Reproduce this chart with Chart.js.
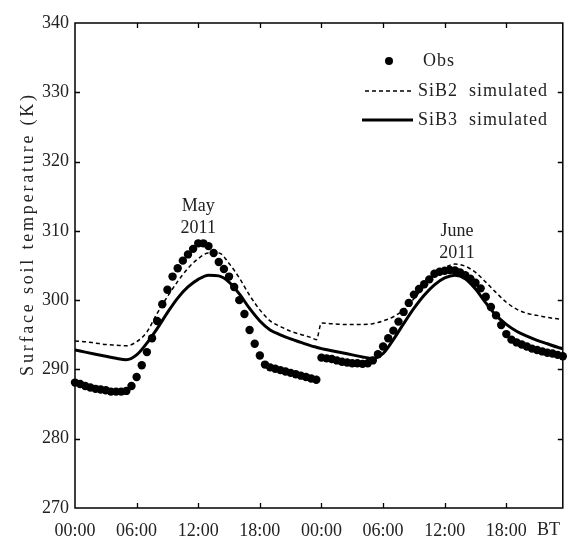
<!DOCTYPE html>
<html>
<head>
<meta charset="utf-8">
<script src="https://cdn.jsdelivr.net/npm/chart.js@4.4.1/dist/chart.umd.min.js"></script>
<style>
  body { margin: 0; background: #fff; }
</style>
</head>
<body>
<canvas id="chart" width="567" height="538"></canvas>
<script>
// observed surface soil temperature (K), every half hour, 00:00 day 1 .. 23:30 day 2
const obsTemp = [
  288.1, 287.9, 287.6, 287.4, 287.2, 287.1, 287.0, 286.8, 286.8, 286.8,
  286.9, 287.6, 288.9, 290.6, 292.5, 294.5, 297.0, 299.4, 301.5, 303.4,
  304.6, 305.7, 306.6, 307.4, 308.2, 308.2, 307.8, 306.8, 305.5, 304.5,
  303.4, 301.9, 300.0, 298.0, 295.7, 293.7, 292.0, 290.7, 290.3, 290.1,
  289.9, 289.7, 289.5, 289.3, 289.1, 288.9, 288.7, 288.5,
  291.7, 291.6, 291.5, 291.3, 291.1, 291.0, 290.9, 290.9, 290.8, 290.9,
  291.3, 292.2, 293.3, 294.5, 295.6, 296.9, 298.3, 299.6, 300.8, 301.6,
  302.3, 303.0, 303.8, 304.1, 304.25, 304.35, 304.3, 304.0, 303.6, 303.1,
  302.5, 301.7, 300.5, 299.0, 297.8, 296.4, 295.1, 294.3, 293.9, 293.6,
  293.3, 293.0, 292.8, 292.6, 292.4, 292.3, 292.1, 291.9
];
const obsHours = obsTemp.map((_, i) => i * 0.5);

// model output hours
const simHours = [
  0, 1, 2, 3, 4, 5, 6, 7, 8, 9, 10, 11, 12, 13, 14, 15, 16, 17, 18, 19, 20, 21, 22, 23, 23.5,
  24, 25, 26, 27, 28, 29, 30, 31, 32, 33, 34, 35, 36, 37, 38, 39, 40, 41, 42, 43, 44, 45, 46, 47, 47.5
];
const sib2Temp = [
  294.1, 294.0, 293.8, 293.6, 293.5, 293.4, 294.0, 295.4, 298.1, 300.5, 302.7, 304.6, 306.0,
  306.8, 306.8, 305.3, 303.2, 300.7, 298.6, 297.0, 296.2, 295.5, 295.05, 294.6, 294.3,
  296.7, 296.6, 296.5, 296.5, 296.5, 296.6, 297.0, 297.6, 298.6, 300.2, 302.0, 303.6, 304.7,
  305.2, 304.9, 304.0, 302.6, 301.1, 299.7, 298.7, 298.1, 297.8, 297.5, 297.3, 297.2
];
const sib3Temp = [
  292.8, 292.5, 292.2, 291.9, 291.6, 291.4, 292.1, 293.8, 295.9, 298.2, 300.3, 301.9, 303.0,
  303.6, 303.5, 302.6, 300.9, 298.8, 297.0, 295.7, 295.0, 294.4, 293.9, 293.4, 293.2,
  293.0, 292.7, 292.4, 292.1, 291.8, 291.6, 292.3, 294.3, 296.6, 298.8, 300.7, 302.2, 303.2,
  303.6, 303.1, 301.6, 299.6, 297.8, 296.5, 295.5, 294.8, 294.2, 293.7, 293.2, 293.0
];

const xTicks = [0, 6, 12, 18, 24, 30, 36, 42];
const yTicks = [270, 280, 290, 300, 310, 320, 330, 340];
const seriesNames = ["Obs", "SiB2 simulated", "SiB3 simulated"];
const yTitle = "Surface soil temperature (K)";
const notes = [
  { hour: 12, temp: 313.6, lines: ["May", "2011"] },
  { hour: 37.2, temp: 310.0, lines: ["June", "2011"] }
];

const FONT = '"Liberation Serif", "DejaVu Serif", serif';
const INK = "#222";

const toXY = (xs, ys) => xs.map((x, i) => ({ x: x, y: ys[i] }));

const framePlugin = {
  id: "frame",
  afterDraw(chart) {
    const { ctx, chartArea: a, scales } = chart;
    const x = scales.x, y = scales.y;
    ctx.save();
    ctx.strokeStyle = "#000";
    ctx.lineWidth = 1.5;
    ctx.strokeRect(a.left, a.top, a.right - a.left, a.bottom - a.top);
    ctx.lineWidth = 1.3;
    ctx.beginPath();
    xTicks.slice(1).forEach((v) => {
      const px = Math.round(x.getPixelForValue(v)) + 0.5;
      ctx.moveTo(px, a.bottom); ctx.lineTo(px, a.bottom - 5);
      ctx.moveTo(px, a.top); ctx.lineTo(px, a.top + 5);
    });
    yTicks.slice(1, -1).forEach((v) => {
      const py = Math.round(y.getPixelForValue(v)) + 0.5;
      ctx.moveTo(a.left, py); ctx.lineTo(a.left + 5, py);
      ctx.moveTo(a.right, py); ctx.lineTo(a.right - 5, py);
    });
    ctx.stroke();

    ctx.fillStyle = INK;
    ctx.font = "18px " + FONT;
    ctx.textBaseline = "middle";

    // "BT" at the end of the time axis
    ctx.textAlign = "left";
    ctx.fillText("BT", 537, 530);

    // y title
    ctx.save();
    ctx.letterSpacing = "2.8px";
    ctx.translate(28, 234);
    ctx.rotate(-Math.PI / 2);
    ctx.textAlign = "center";
    ctx.fillText(yTitle, 0, 0);
    ctx.restore();

    // month notes
    ctx.textAlign = "center";
    notes.forEach((n) => {
      const px = x.getPixelForValue(n.hour);
      const py = y.getPixelForValue(n.temp);
      n.lines.forEach((t, i) => ctx.fillText(t, px, py + i * 22));
    });

    // legend
    ctx.fillStyle = "#000";
    ctx.beginPath();
    ctx.arc(389, 61, 4, 0, Math.PI * 2);
    ctx.fill();
    ctx.strokeStyle = "#000";
    ctx.lineWidth = 1.5;
    ctx.setLineDash([4, 3]);
    ctx.beginPath(); ctx.moveTo(365, 91); ctx.lineTo(413, 91); ctx.stroke();
    ctx.setLineDash([]);
    ctx.lineWidth = 3;
    ctx.beginPath(); ctx.moveTo(362, 120); ctx.lineTo(413, 120); ctx.stroke();
    ctx.fillStyle = INK;
    ctx.textAlign = "left";
    ctx.letterSpacing = "1px";
    ctx.fillText(seriesNames[0], 423, 61);
    ctx.fillText(seriesNames[1].replace(" ", "  "), 418, 91);
    ctx.fillText(seriesNames[2].replace(" ", "  "), 418, 120);
    ctx.restore();
  }
};

new Chart(document.getElementById("chart"), {
  type: "scatter",
  data: {
    datasets: [
      {
        label: seriesNames[0],
        data: toXY(obsHours, obsTemp),
        pointRadius: 4.2,
        pointBackgroundColor: "#000",
        pointBorderWidth: 0,
        showLine: false,
        clip: false,
        order: 0
      },
      {
        label: seriesNames[1],
        data: toXY(simHours, sib2Temp),
        showLine: true,
        borderColor: "#000",
        borderWidth: 1.5,
        borderDash: [4, 3],
        pointRadius: 0,
        cubicInterpolationMode: "monotone",
        order: 1
      },
      {
        label: seriesNames[2],
        data: toXY(simHours, sib3Temp),
        showLine: true,
        borderColor: "#000",
        borderWidth: 3,
        pointRadius: 0,
        cubicInterpolationMode: "monotone",
        order: 2
      }
    ]
  },
  options: {
    responsive: false,
    animation: false,
    layout: { padding: { top: 23, right: 1, left: 0, bottom: 0 } },
    plugins: { legend: { display: false }, tooltip: { enabled: false } },
    scales: {
      x: {
        type: "linear",
        min: 0,
        max: 47.5,
        grid: { display: false, drawTicks: false },
        border: { display: false },
        afterBuildTicks: (s) => { s.ticks = xTicks.map((v) => ({ value: v })); },
        afterFit: (s) => { s.height = 30; },
        ticks: {
          padding: 12,
          maxRotation: 0,
          autoSkip: false,
          color: INK,
          font: { family: FONT, size: 18 },
          callback: (v) => String(v % 24).padStart(2, "0") + ":00"
        }
      },
      y: {
        min: 270,
        max: 340,
        grid: { display: false, drawTicks: false },
        border: { display: false },
        afterBuildTicks: (s) => { s.ticks = yTicks.map((v) => ({ value: v })); },
        afterFit: (s) => { s.width = 75; },
        ticks: {
          padding: 6,
          color: INK,
          font: { family: FONT, size: 18 }
        }
      }
    }
  },
  plugins: [framePlugin]
});
</script>
</body>
</html>
